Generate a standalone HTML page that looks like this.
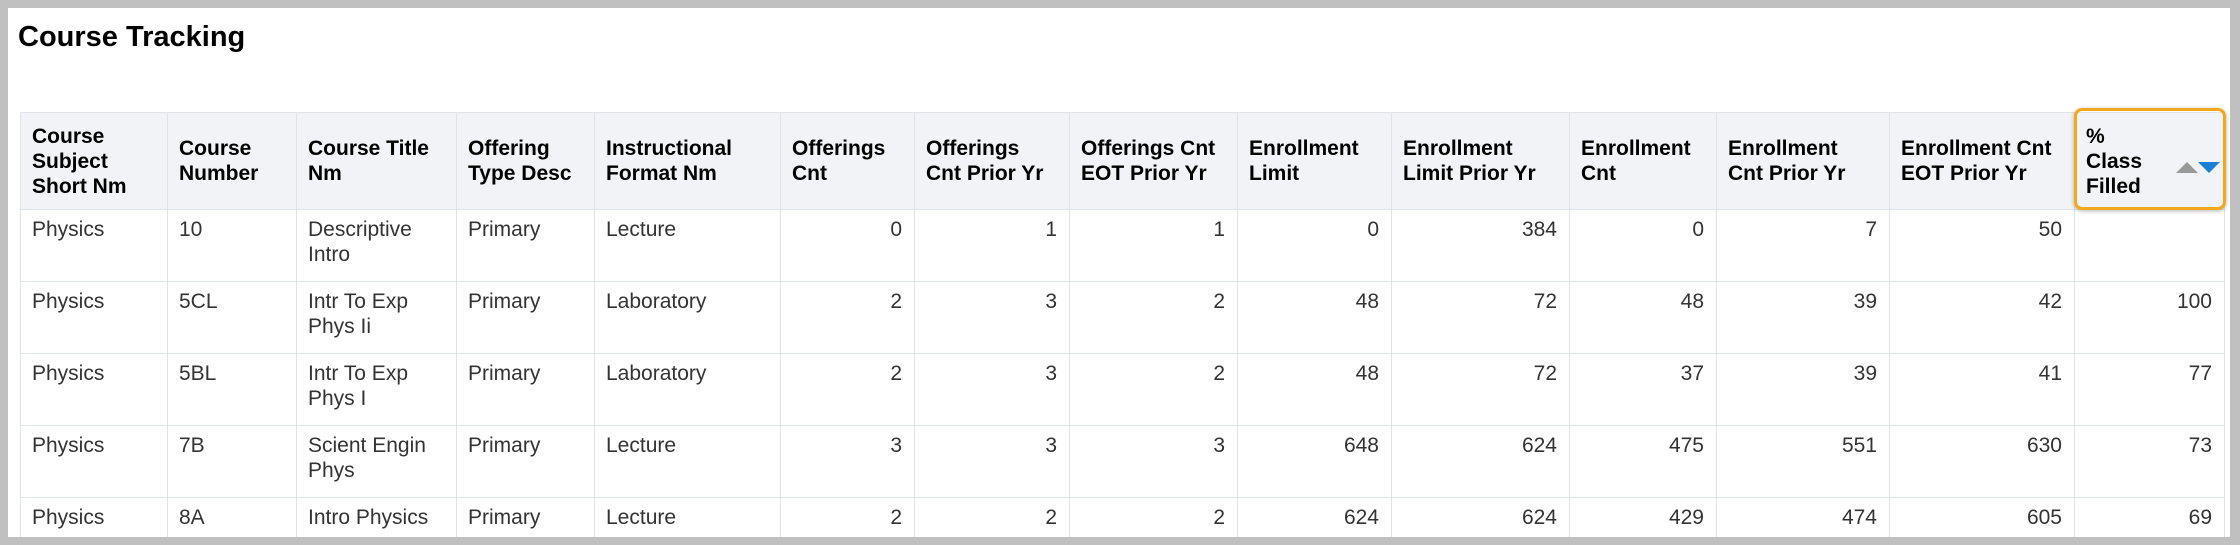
<!DOCTYPE html>
<html><head><meta charset="utf-8"><style>
html,body{margin:0;padding:0;}
body{width:2240px;height:545px;background:#c0c0c0;position:relative;overflow:hidden;font-family:"Liberation Sans",Arial,sans-serif;}
#panel{position:absolute;left:8px;top:8px;width:2222px;height:529px;background:#fff;overflow:hidden;}
h1{position:absolute;left:10px;top:13px;margin:0;font-size:29px;font-weight:bold;color:#000;}
table{position:absolute;left:12px;top:104px;border-collapse:collapse;table-layout:fixed;width:2204px;}
th,td{border:1px solid #dfe4e8;font-size:21px;line-height:25px;padding:0 11px;box-sizing:border-box;}
th{background:#f1f3f6;color:#000;text-align:left;height:97px;vertical-align:middle;font-weight:bold;}
td{color:#333;height:72px;vertical-align:top;padding-top:7px;}
td.n{text-align:right;padding-right:12px;}
th.sorted{position:relative;}
#hl{position:absolute;left:2066px;top:100px;width:146px;height:96px;border:3px solid #f2a81d;border-radius:8px;box-shadow:0 1px 4px rgba(0,0,0,.3);pointer-events:none;}
.up{position:absolute;right:26px;top:49px;width:0;height:0;border-left:11px solid transparent;border-right:11px solid transparent;border-bottom:11px solid #999;}
.dn{position:absolute;right:4px;top:49px;width:0;height:0;border-left:11px solid transparent;border-right:11px solid transparent;border-top:11px solid #1a7fd6;}
</style></head><body>
<div id="panel">
<h1>Course Tracking</h1>
<table>
<colgroup>
<col style="width:147px"><col style="width:129px"><col style="width:160px"><col style="width:138px"><col style="width:186px"><col style="width:134px"><col style="width:155px"><col style="width:168px"><col style="width:154px"><col style="width:178px"><col style="width:147px"><col style="width:173px"><col style="width:185px"><col style="width:150px">
</colgroup>
<thead><tr>
<th>Course<br>Subject<br>Short Nm</th>
<th>Course<br>Number</th>
<th>Course Title<br>Nm</th>
<th>Offering<br>Type Desc</th>
<th>Instructional<br>Format Nm</th>
<th>Offerings<br>Cnt</th>
<th>Offerings<br>Cnt Prior Yr</th>
<th>Offerings Cnt<br>EOT Prior Yr</th>
<th>Enrollment<br>Limit</th>
<th>Enrollment<br>Limit Prior Yr</th>
<th>Enrollment<br>Cnt</th>
<th>Enrollment<br>Cnt Prior Yr</th>
<th>Enrollment Cnt<br>EOT Prior Yr</th>
<th class="sorted">%<br>Class<br>Filled<span class="up"></span><span class="dn"></span></th>
</tr></thead>
<tbody>
<tr><td>Physics</td><td>10</td><td>Descriptive<br>Intro</td><td>Primary</td><td>Lecture</td><td class="n">0</td><td class="n">1</td><td class="n">1</td><td class="n">0</td><td class="n">384</td><td class="n">0</td><td class="n">7</td><td class="n">50</td><td class="n"></td></tr>
<tr><td>Physics</td><td>5CL</td><td>Intr To Exp<br>Phys Ii</td><td>Primary</td><td>Laboratory</td><td class="n">2</td><td class="n">3</td><td class="n">2</td><td class="n">48</td><td class="n">72</td><td class="n">48</td><td class="n">39</td><td class="n">42</td><td class="n">100</td></tr>
<tr><td>Physics</td><td>5BL</td><td>Intr To Exp<br>Phys I</td><td>Primary</td><td>Laboratory</td><td class="n">2</td><td class="n">3</td><td class="n">2</td><td class="n">48</td><td class="n">72</td><td class="n">37</td><td class="n">39</td><td class="n">41</td><td class="n">77</td></tr>
<tr><td>Physics</td><td>7B</td><td>Scient Engin<br>Phys</td><td>Primary</td><td>Lecture</td><td class="n">3</td><td class="n">3</td><td class="n">3</td><td class="n">648</td><td class="n">624</td><td class="n">475</td><td class="n">551</td><td class="n">630</td><td class="n">73</td></tr>
<tr><td>Physics</td><td>8A</td><td>Intro Physics</td><td>Primary</td><td>Lecture</td><td class="n">2</td><td class="n">2</td><td class="n">2</td><td class="n">624</td><td class="n">624</td><td class="n">429</td><td class="n">474</td><td class="n">605</td><td class="n">69</td></tr>
</tbody></table>
<div id="hl"></div>
</div>
</body></html>
